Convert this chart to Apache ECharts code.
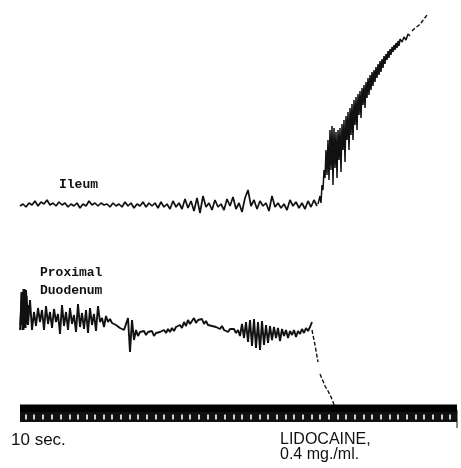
<!DOCTYPE html>
<html>
<head>
    <meta charset="utf-8">
    <title>Ileum / Duodenum trace</title>
    <script src="https://cdn.jsdelivr.net/npm/echarts@6/dist/echarts.min.js"></script>
    <style>
        html, body { margin: 0; padding: 0; background: #fff; }
    </style>
</head>
<body>
    <div id="main" style="width: 461px;height:468px;"></div>
    <script type="text/javascript">
        // readings off the recording (x = time, y = pen deflection, downwards)
        var ileumStart = 20, ileumStep = 3;
        var ileumBase = [
            206,204,207,203,205,201,206,202,204,200,
            205,203,206,202,205,203,207,204,206,203,
            208,204,206,201,205,203,206,203,205,204,
            207,203,206,204,207,202,206,203,208,204,
            206,202,207,203,206,203,208,202,207,204,
            209,201,207,203,209,199,208,201,211,198,
            213,196,207,203,210,200,207,204,210,199,
            206,197,209,203,212,198,190,206,200,209,
            201,206,203,211,196,207,203,208,204,210,
            200,206,202,208,203,209,201,207,200,206
        ];
        var riseX = [318,320,321,322,323,324,325,326,327,328,329,330,331,332,333,334,335,336,337,338,
                     339,340,341,342,343,344,345,346,347,348,349,350,351,352,353,354,355,356,357,358,
                     359,360,361,362,363,364,365,366,367,368,369,370,371,372,373,374,375,376,377,378,
                     379,380,381,382,383,384,385,386,387,388,389,390,391,392,393,394,395,396,397,398,
                     399,400,402,404,406,408,410];
        var riseY = [204,196,203,185,190,170,178,150,175,140,180,130,170,126,185,128,168,132,178,130,
                     160,128,172,124,150,120,162,116,140,112,150,108,135,104,140,100,125,97,130,94,
                     115,91,118,88,105,85,108,82,98,78,95,75,90,72,86,70,82,67,78,64,
                     75,61,72,59,68,56,64,54,60,51,58,49,55,47,52,45,50,43,48,41,
                     46,39,42,37,40,34,36];
        var tipX = [412,415,418,421,424,427];
        var tipY = [31,28,26,23,19,15];

        var duoStart = 20, duoStep = 2;
        var duoBase = [
            330,292,328,290,325,300,330,312,326,308,
            322,310,330,306,324,312,328,309,322,314,
            334,305,326,312,330,308,324,315,332,304,
            327,313,329,310,333,308,325,314,331,306,
            322,318,327,316,322,319,323,321,325,324,
            328,326,330,328,318,352,320,340,330,336,
            332,334,331,335,332,334,331,336,333,335,
            332,334,330,333,329,332,328,331,327,329,
            325,328,322,326,320,324,321,318,323,320,
            322,319,324,321,325,323,326,324,327,325,
            329,326,330,328,332,329,331,329,333,330,
            336,324,338,322,342,320,346,319,348,322,
            350,321,345,325,343,326,340,327,338,328,
            341,329,336,330,338,331,335,330,337,331,
            334,329,333,328,331,327,322
        ];
        // thick ink blot at the very start of the duodenum trace
        var blotX = [21,22,23,24,25,26,27,28];
        var blotY = [325,292,330,289,328,296,324,305];
        var dropX = [312,315,318, null, 320,323,325,328,331,333,335];
        var dropY = [330,345,362, null, 374,381,386,391,397,402,407];

        var tickX = [26,34,43,52,61,70,78,87,95,104,112,121,130,138,147,156,164,173,
                     182,190,199,208,216,225,234,242,251,260,268,277,286,294,303,312,
                     320,329,338,346,355,364,372,381,390,398,407,416,424,433,442,450];

        function series(xs, ys, width, dashed) {
            var d = [];
            for (var i = 0; i < xs.length; i++) {
                d.push(xs[i] === null ? '-' : [xs[i], ys[i]]);
            }
            return {
                type: 'line', data: d, showSymbol: false, silent: true, z: 3,
                lineStyle: { color: '#111', width: width, type: dashed ? [4, 2] : 'solid' }
            };
        }
        function stepped(start, step, ys, width) {
            var xs = [];
            for (var i = 0; i < ys.length; i++) xs.push(start + i * step);
            return series(xs, ys, width);
        }

        var chartDom = document.getElementById('main');
        var myChart = echarts.init(chartDom, null, {renderer: 'canvas'});

        var option = {
            animation: false,
            grid: { left: 0, right: 0, top: 0, bottom: 0 },
            xAxis: { type: 'value', min: 0, max: 461, show: false },
            yAxis: { type: 'value', min: 0, max: 468, inverse: true, show: false },
            series: [
                stepped(ileumStart, ileumStep, ileumBase, 1.7),
                series(riseX, riseY, 1.5),
                series(tipX, tipY, 1.4, true),
                stepped(duoStart, duoStep, duoBase, 1.9),
                series(blotX, blotY, 3),
                series(dropX, dropY, 1.4, true),
                // time marker band
                { type: 'line', data: [[20, 408.5], [457, 408.5]], showSymbol: false, silent: true, z: 2,
                  lineStyle: { color: '#000', width: 8 } },
                { type: 'line', data: [[20, 417], [457, 417]], showSymbol: false, silent: true, z: 2,
                  lineStyle: { color: '#111', width: 10 } },
                { type: 'line', data: [[457, 410], [457, 428]], showSymbol: false, silent: true, z: 2,
                  lineStyle: { color: '#111', width: 1 } },
                { type: 'scatter', silent: true, symbol: 'rect', symbolSize: [2, 5], z: 10,
                  itemStyle: { color: '#fff' },
                  data: tickX.map(function (x) { return [x, 417]; }) }
            ],
            graphic: [
                { type: 'text', left: 59, top: 178, style: { text: 'Ileum', fill: '#111',
                  font: 'bold 13px "Liberation Mono", monospace' } },
                { type: 'text', left: 40, top: 266, style: { text: 'Proximal', fill: '#111',
                  font: 'bold 13px "Liberation Mono", monospace' } },
                { type: 'text', left: 40, top: 284, style: { text: 'Duodenum', fill: '#111',
                  font: 'bold 13px "Liberation Mono", monospace' } },
                { type: 'text', left: 11, top: 432, style: { text: '10 sec.', fill: '#111',
                  font: '17px "Liberation Sans", Arial, sans-serif' } },
                { type: 'text', left: 280, top: 432, style: { text: 'LIDOCAINE,\n0.4 mg./ml.', fill: '#111',
                  lineHeight: 15, font: '16px "Liberation Sans", Arial, sans-serif' } }
            ]
        };
        myChart.setOption(option);
    </script>
</body>
</html>
